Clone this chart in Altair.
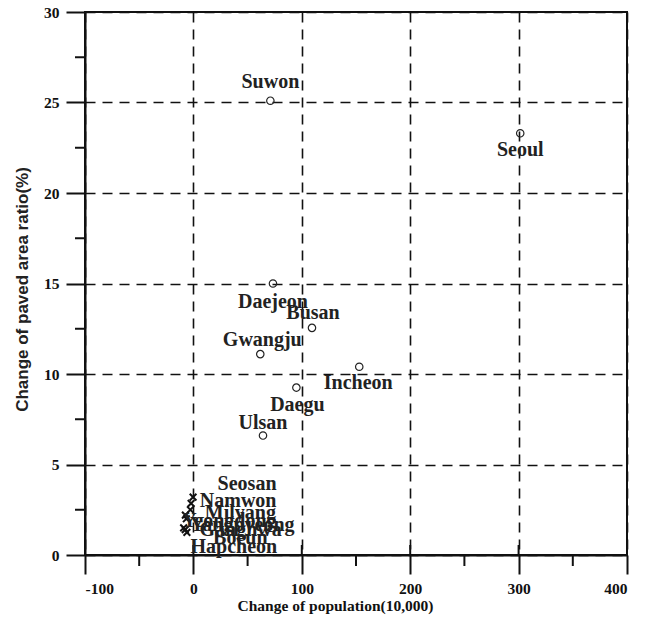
import altair as alt
import pandas as pd

# Cities (open circles)
city_names = ["Suwon", "Seoul", "Daejeon", "Busan", "Gwangju", "Incheon", "Daegu", "Ulsan"]
city_pop = [71, 301.5, 73.4, 109.4, 61.7, 153, 95, 64.2]
city_paved = [25.1, 23.3, 15.0, 12.55, 11.1, 10.4, 9.25, 6.6]

# Small towns (crosses)
town_names = ["Seosan", "Namwon", "Milyang", "Yeongdong", "Yangpyeong", "Ganghwa", "Boeun", "Hapcheon"]
town_pop = [-0.3, -2.1, -2.8, -7.4, -6.5, -9.0, -7.5, -6.0]
town_paved = [3.2, 2.85, 2.5, 2.2, 2.0, 1.5, 1.4, 1.25]

x_ticks = [-100, 0, 100, 200, 300, 400]
x_minor = [-50, 50, 150, 250, 350]
y_ticks = [0, 5, 10, 15, 20, 25, 30]
y_minor = [2.5, 7.5, 12.5, 17.5, 22.5, 27.5]

# label placement (pixel offsets from each point)
label_offsets = {
    "Suwon": (0, -19), "Seoul": (0, 17), "Daejeon": (0, 18), "Busan": (1, -15),
    "Gwangju": (2, -14), "Incheon": (-1, 16), "Daegu": (1, 17), "Ulsan": (0, -13),
    "Seosan": (54, -13), "Namwon": (47, -2), "Milyang": (50, 3), "Yeongdong": (44, 6),
    "Yangpyeong": (56, 6), "Ganghwa": (57, 2), "Boeun": (55, 8), "Hapcheon": (47, 15),
}

W, H = 542, 543
SERIF = "Liberation Serif"

cities = pd.DataFrame({"name": city_names, "pop": city_pop, "paved": city_paved})
towns = pd.DataFrame({"name": town_names, "pop": town_pop, "paved": town_paved})
points = pd.concat([cities, towns], ignore_index=True)

x_enc = alt.X(
    "pop:Q",
    scale=alt.Scale(domain=[-100, 400], nice=False, zero=False),
    axis=alt.Axis(
        values=x_ticks, labelExpr="datum.value", title="Change of population(10,000)",
        grid=True, gridDash=[10, 7], gridColor="#111", gridWidth=1.6,
        tickSize=19, tickWidth=2, tickColor="#111", domainColor="#111", domainWidth=2,
        labelFont=SERIF, labelFontWeight="bold", labelFontSize=15.5, labelColor="#111",
        labelPadding=7, titleFont=SERIF, titleFontWeight="bold", titleFontSize=15.5,
        titleColor="#111", titlePadding=2, titleX=250,
    ),
)
y_enc = alt.Y(
    "paved:Q",
    scale=alt.Scale(domain=[0, 30], nice=False, zero=False),
    axis=alt.Axis(
        values=y_ticks, labelExpr="datum.value", title="Change of paved area ratio(%)",
        grid=True, gridDash=[10, 7], gridColor="#111", gridWidth=1.6,
        tickSize=19, tickWidth=2, tickColor="#111", domainColor="#111", domainWidth=2,
        labelFont=SERIF, labelFontWeight="bold", labelFontSize=15.5, labelColor="#111",
        labelPadding=7, titleFont="Liberation Sans", titleFontWeight="bold",
        titleFontSize=17, titleColor="#222", titlePadding=12, titleY=277,
    ),
)

circles = alt.Chart(cities).mark_point(
    shape="circle", filled=False, size=55, color="#222", strokeWidth=1.2, opacity=1
).encode(x=x_enc, y=y_enc)

crosses = alt.Chart(towns).mark_point(
    shape="M-1,-1L1,1M-1,1L1,-1", filled=False, size=45, color="#111", strokeWidth=2, opacity=1
).encode(x="pop:Q", y="paved:Q")

labels = []
for name, (dx, dy) in label_offsets.items():
    labels.append(
        alt.Chart(points).transform_filter(alt.datum.name == name).mark_text(
            dx=dx, dy=dy, font=SERIF, fontWeight="bold", fontSize=20,
            color="#222", baseline="middle", align="center",
        ).encode(x="pop:Q", y="paved:Q", text="name:N")
    )

# inward halves of the major x ticks
x_in = alt.Chart(pd.DataFrame({"v": x_ticks})).mark_rule(color="#111", strokeWidth=2).encode(
    x="v:Q", y=alt.value(H), y2=alt.value(H - 10)
)
# minor ticks
x_min = alt.Chart(pd.DataFrame({"v": x_minor})).mark_rule(color="#111", strokeWidth=2).encode(
    x="v:Q", y=alt.value(H), y2=alt.value(H + 11)
)
y_min = alt.Chart(pd.DataFrame({"v": y_minor})).mark_rule(color="#111", strokeWidth=2).encode(
    y="v:Q", x=alt.value(0), x2=alt.value(-10)
)

chart = alt.layer(circles, crosses, x_in, x_min, y_min, *labels).properties(
    width=W, height=H,
    autosize=alt.AutoSizeParams(type="none"),
    padding={"left": 85, "top": 12, "right": 26, "bottom": 63},
    background="white",
).configure_view(stroke="#111", strokeWidth=2)

chart.save("out.html", embed_options={"renderer": "svg", "actions": False})
